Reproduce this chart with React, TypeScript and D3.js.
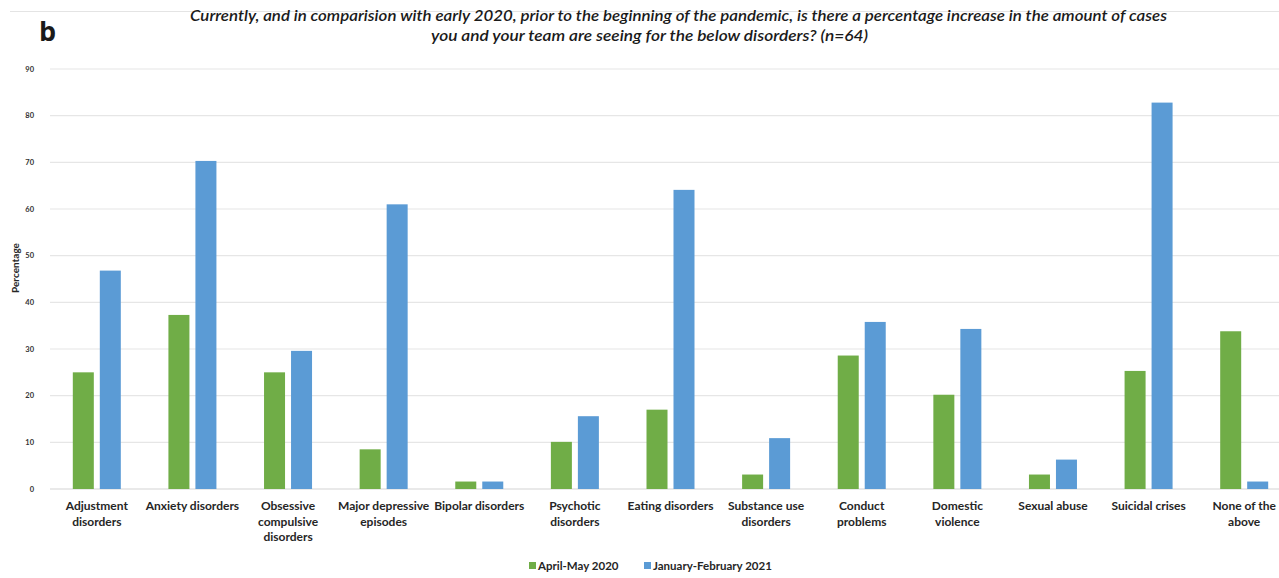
import React from "react";
import * as d3 from "d3";

const categories: string[][] = [
  ["Adjustment", "disorders"],
  ["Anxiety disorders"],
  ["Obsessive", "compulsive", "disorders"],
  ["Major depressive", "episodes"],
  ["Bipolar disorders"],
  ["Psychotic", "disorders"],
  ["Eating disorders"],
  ["Substance use", "disorders"],
  ["Conduct", "problems"],
  ["Domestic", "violence"],
  ["Sexual abuse"],
  ["Suicidal crises"],
  ["None of the", "above"],
];
const april2020: number[] = [25, 37.3, 25, 8.5, 1.6, 10.1, 17, 3.1, 28.6, 20.2, 3.1, 25.3, 33.8];
const jan2021: number[] = [46.8, 70.3, 29.6, 61, 1.6, 15.6, 64.1, 10.9, 35.8, 34.3, 6.3, 82.8, 1.6];
const seriesNames = ["April-May 2020", "January-February 2021"];
const seriesColors = ["#70AD47", "#5B9BD5"];
const yTicks = [0, 10, 20, 30, 40, 50, 60, 70, 80, 90];
const titleLines = [
  "Currently, and in comparision with early 2020, prior to the beginning of the pandemic, is there a percentage increase in the amount of cases",
  "you and your team are seeing for the below disorders?  (n=64)",
];

const W = 1279;
const H = 578;
const FONT = "Lato, 'Open Sans', sans-serif";

export default function App() {
  const x0 = d3
    .scaleBand<number>()
    .domain(categories.map((_, i) => i))
    .range([49, 1292])
    .padding(0);
  const y = d3.scaleLinear().domain([0, 90]).range([489, 69]);
  const step = x0.bandwidth();
  const groupW = 48;
  const x1 = d3
    .scaleBand<number>()
    .domain([0, 1])
    .range([(step - groupW) / 2, (step + groupW) / 2])
    .paddingInner(0.222)
    .paddingOuter(0);
  const series = [april2020, jan2021];

  return (
    <svg
      width={W}
      height={H}
      style={{ position: "absolute", left: 0, top: 0, background: "#fff" }}
      fontFamily={FONT}
    >
      <rect x={0} y={0} width={W} height={H} fill="#fff" />
      <line x1={10} x2={W} y1={11.5} y2={11.5} stroke="#e4e4e4" strokeWidth={1} />
      <text x={39} y={41} fontSize={27} fontWeight={700} fill="#1a1a1a" fontFamily="'Open Sans', sans-serif">
        b
      </text>
      <text
        x={190}
        y={21}
        fontSize={14.5}
        fontStyle="italic"
        fontWeight={600}
        fill="#1a1a1a"
        textLength={977}
        lengthAdjust="spacingAndGlyphs"
      >
        {titleLines[0]}
      </text>
      <text
        x={431}
        y={41}
        fontSize={14.5}
        fontStyle="italic"
        fontWeight={600}
        fill="#1a1a1a"
        textLength={437}
        lengthAdjust="spacingAndGlyphs"
      >
        {titleLines[1]}
      </text>

      {/* gridlines */}
      {yTicks.map((t) => (
        <g key={t}>
          <line x1={50} x2={W} y1={y(t)} y2={y(t)} stroke={t === 0 ? "#d4d4d4" : "#e6e6e6"} strokeWidth={1.2} />
          <text x={34} y={y(t)} dy="0.35em" textAnchor="end" fontSize={7.5} fontWeight={700} fill="#333">
            {t}
          </text>
        </g>
      ))}
      <text
        transform={`translate(19,${268}) rotate(-90)`}
        textAnchor="middle"
        fontSize={10}
        fontWeight={700}
        fill="#262626"
      >
        Percentage
      </text>

      {/* bars */}
      {categories.map((_, i) => (
        <g key={i} transform={`translate(${x0(i)},0)`}>
          {series.map((s, k) => (
            <rect
              key={k}
              x={x1(k)}
              y={y(s[i])}
              width={x1.bandwidth()}
              height={y(0) - y(s[i])}
              fill={seriesColors[k]}
            />
          ))}
        </g>
      ))}

      {/* x labels */}
      {categories.map((lines, i) => (
        <text
          key={i}
          x={(x0(i) as number) + step / 2}
          y={510}
          textAnchor="middle"
          fontSize={12}
          fontWeight={700}
          fill="#262626"
        >
          {lines.map((l, j) => (
            <tspan key={j} x={(x0(i) as number) + step / 2} dy={j === 0 ? 0 : 15.5}>
              {l}
            </tspan>
          ))}
        </text>
      ))}

      {/* legend */}
      {seriesNames.map((n, k) => {
        const lx = k === 0 ? 529 : 644;
        return (
          <g key={k}>
            <rect x={lx} y={562} width={7} height={7} fill={seriesColors[k]} />
            <text x={lx + 9} y={565.5} dy="0.35em" fontSize={11.5} fontWeight={700} fill="#262626">
              {n}
            </text>
          </g>
        );
      })}
    </svg>
  );
}
